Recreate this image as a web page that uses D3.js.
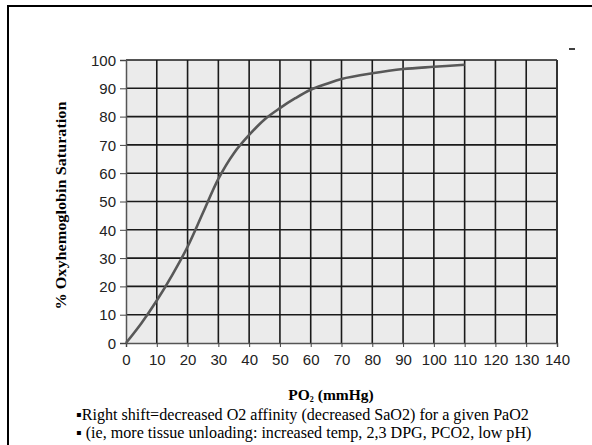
<!DOCTYPE html>
<html>
<head>
<meta charset="utf-8">
<script src="https://cdn.jsdelivr.net/npm/d3@7"></script>
<style>
body { margin: 0; background: #fff; }
svg { display: block; }
</style>
</head>
<body>
<script>
// oxyhemoglobin dissociation curve
var po2 = [0, 5, 10, 15, 20, 25, 30, 35, 40, 45, 50, 55, 60, 65, 70, 80, 90, 100, 110];
var sat = [0, 7, 15, 24, 34, 46, 58, 67, 73.5, 79, 83, 86.5, 89.5, 91.5, 93.3, 95.3, 96.8, 97.6, 98.3];
var xTicks = [0, 10, 20, 30, 40, 50, 60, 70, 80, 90, 100, 110, 120, 130, 140];
var yTicks = [0, 10, 20, 30, 40, 50, 60, 70, 80, 90, 100];
var notes = [
	"\u25AARight shift=decreased O2 affinity (decreased SaO2) for a given PaO2",
	"\u25AA (ie, more tissue unloading: increased temp, 2,3 DPG, PCO2, low pH)"
];

var width = 592, height = 445;
var plotL = 126, plotR = 557, plotT = 60, plotB = 343;

var svg = d3.select('body').append('svg').attr('width', width).attr('height', height);

// slide frame
svg.append('line').attr('x1', 7).attr('x2', width).attr('y1', 6).attr('y2', 6)
	.attr('stroke', '#000').attr('stroke-width', 2);
svg.append('line').attr('x1', 8).attr('x2', 8).attr('y1', 6).attr('y2', height)
	.attr('stroke', '#000').attr('stroke-width', 2);

var x = d3.scaleLinear().domain([0, 140]).range([plotL, plotR]);
var y = d3.scaleLinear().domain([0, 100]).range([plotB, plotT]);

svg.append('rect').attr('x', plotL).attr('y', plotT).attr('width', plotR - plotL).attr('height', plotB - plotT)
	.attr('fill', '#ebebeb');

// grid
svg.append('g').selectAll('line').data(xTicks.slice(1)).enter().append('line')
	.attr('x1', function(d) { return x(d); }).attr('x2', function(d) { return x(d); })
	.attr('y1', plotT).attr('y2', plotB)
	.attr('stroke', '#1a1a1a').attr('stroke-width', 1.6);
svg.append('g').selectAll('line').data(yTicks.slice(1)).enter().append('line')
	.attr('x1', plotL).attr('x2', plotR)
	.attr('y1', function(d) { return y(d); }).attr('y2', function(d) { return y(d); })
	.attr('stroke', '#1a1a1a').attr('stroke-width', 1.6);

// axes
var xAxis = d3.axisBottom(x).tickValues(xTicks).tickSize(4).tickPadding(7);
var yAxis = d3.axisLeft(y).tickValues(yTicks).tickSize(6).tickPadding(4);

var gx = svg.append('g').attr('transform', 'translate(0,' + plotB + ')').call(xAxis);
var gy = svg.append('g').attr('transform', 'translate(' + plotL + ',0)').call(yAxis);
[gx, gy].forEach(function(g) {
	g.select('.domain').attr('stroke', '#555').attr('stroke-width', 1.5);
	g.selectAll('.tick line').attr('stroke', '#444');
	g.selectAll('.tick text').attr('fill', '#222')
		.style('font-family', 'Liberation Sans, Arial, sans-serif').style('font-size', '15px');
});
gx.selectAll('.tick text').attr('dy', '0.75em');
gy.selectAll('.tick text').attr('dy', '0.35em');

// right edge of plot
svg.append('line').attr('x1', plotR).attr('x2', plotR).attr('y1', plotT).attr('y2', plotB)
	.attr('stroke', '#333').attr('stroke-width', 2);

// curve
var line = d3.line()
	.x(function(d, i) { return x(po2[i]); })
	.y(function(d) { return y(d); })
	.curve(d3.curveCatmullRom.alpha(0.5));
svg.append('path').datum(sat).attr('d', line)
	.attr('fill', 'none').attr('stroke', '#585858').attr('stroke-width', 2.6);

// titles
svg.append('text')
	.attr('transform', 'translate(66,' + ((plotT + plotB) / 2 + 4) + ') rotate(-90)')
	.attr('text-anchor', 'middle')
	.attr('textLength', 208).attr('lengthAdjust', 'spacingAndGlyphs')
	.style('font-family', 'Liberation Serif, Times New Roman, serif')
	.style('font-size', '14px').style('font-weight', 'bold')
	.text('% Oxyhemoglobin Saturation');

var xt = svg.append('text').attr('x', 331).attr('y', 400).attr('text-anchor', 'middle')
	.style('font-family', 'Liberation Serif, Times New Roman, serif')
	.style('font-size', '15.5px').style('font-weight', 'bold');
xt.append('tspan').text('PO');
xt.append('tspan').attr('font-size', '8px').attr('dy', 2).text('2');
xt.append('tspan').attr('dy', -2).text(' (mmHg)');

svg.selectAll('text.note').data(notes).enter().append('text')
	.attr('class', 'note')
	.attr('x', 76).attr('y', function(d, i) { return 420 + i * 17.5; })
	.style('font-family', 'Liberation Serif, Times New Roman, serif')
	.style('font-size', '16.1px').attr('fill', '#000')
	.text(function(d) { return d; });

// stray mark top right
svg.append('line').attr('x1', 569).attr('x2', 575).attr('y1', 49).attr('y2', 49)
	.attr('stroke', '#000').attr('stroke-width', 1.5);
</script>
</body>
</html>
